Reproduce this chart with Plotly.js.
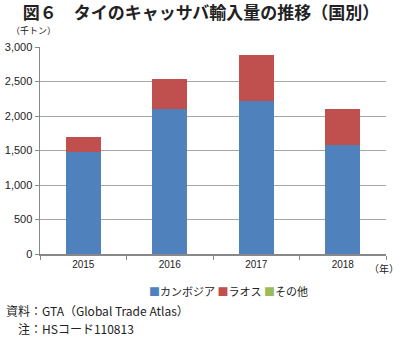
<!DOCTYPE html>
<html><head><meta charset="utf-8">
<script src="https://cdn.plot.ly/plotly-3.0.1.min.js"></script>
<style>html,body{margin:0;padding:0;background:#fff}#c{width:402px;height:338px}</style>
</head><body><div id="c"></div>
<script>
const years = ['2015','2016','2017','2018'];
const cambodia = [1480, 2100, 2215, 1580];
const laos = [215, 435, 665, 525];
const others = [5, 2, 2, 2];
const seriesNames = ['カンボジア','ラオス','その他'];
const seriesColors = ['#4F81BD','#C0504D','#9BBB59'];
const yTicks = [0,500,1000,1500,2000,2500,3000];
const yTickText = ['0','500','1,000','1,500','2,000','2,500','3,000'];

const jp = '"Noto Sans CJK JP", sans-serif';
const lat = '"Liberation Sans", Arial, sans-serif';
const vals = [cambodia, laos, others];
const traces = vals.map((v,i)=>({
  type:'bar', x:years, y:v, name:seriesNames[i],
  marker:{color:seriesColors[i], line:{width:0}}, width:0.4, showlegend:false, hoverinfo:'skip'
}));
const legendText = seriesNames.map((n,i)=>`<span style="color:${seriesColors[i]}">■</span>${n}`).join(' ');
const layout = {
  width:402, height:338, barmode:'stack',
  margin:{l:40, r:16, t:47, b:84},
  paper_bgcolor:'#fff', plot_bgcolor:'#fff',
  title:{text:'<b>図６　タイのキャッサバ輸入量の推移（国別）</b>', x:0.5, xanchor:'center', y:0.96, yanchor:'middle', font:{family:jp, size:17, color:'#222'}},
  xaxis:{type:'category', showgrid:false, showline:true, linecolor:'#888', linewidth:1.5, ticks:'outside', tickson:'boundaries', ticklen:4, tickcolor:'#888',
    tickfont:{family:lat, size:10, color:'#222'}, fixedrange:true},
  yaxis:{range:[0,3000], tickvals:yTicks, ticktext:yTickText, showgrid:true, gridcolor:'#a6a6a6', gridwidth:1,
    showline:true, linecolor:'#888', linewidth:1.5, ticks:'outside', ticklen:4, tickcolor:'#888', zeroline:false,
    tickfont:{family:lat, size:11, color:'#222'}, fixedrange:true},
  annotations:[
    {text:'（千トン）', xref:'paper', yref:'paper', x:-0.09, y:1.082, xanchor:'left', yanchor:'middle', showarrow:false, font:{family:jp, size:9, color:'#222'}},
    {text:'（年）', xref:'paper', yref:'paper', x:1.043, y:-0.07, xanchor:'right', yanchor:'middle', showarrow:false, font:{family:jp, size:10, color:'#222'}},
    {text:legendText, xref:'paper', yref:'paper', x:0.545, y:-0.18, xanchor:'center', yanchor:'middle', showarrow:false, font:{family:jp, size:11, color:'#222'}},
    {text:'資料：GTA（Global Trade Atlas）', xref:'paper', yref:'paper', x:-0.105, y:-0.275, xanchor:'left', yanchor:'middle', showarrow:false, font:{family:jp, size:12, color:'#222'}},
    {text:'注：HSコード110813', xref:'paper', yref:'paper', x:-0.068, y:-0.362, xanchor:'left', yanchor:'middle', showarrow:false, font:{family:jp, size:12, color:'#222'}}
  ]
};
Plotly.newPlot('c', traces, layout, {displayModeBar:false, staticPlot:true});
</script></body></html>
